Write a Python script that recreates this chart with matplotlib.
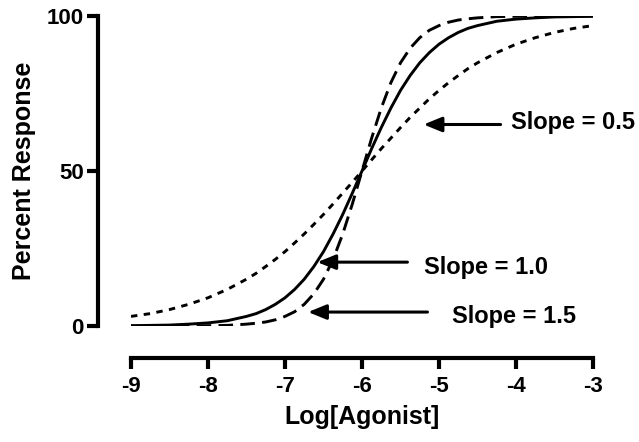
import matplotlib.pyplot as plt

plt.rcParams['font.family'] = ['Liberation Sans', 'DejaVu Sans']
plt.rcParams['font.weight'] = 'bold'
plt.rcParams['axes.unicode_minus'] = False

log_agonist = [-9.0, -8.75, -8.5, -8.25, -8.0, -7.75, -7.5,
               -7.375, -7.25, -7.125, -7.0, -6.875, -6.75, -6.625, -6.5,
               -6.375, -6.25, -6.125, -6.0, -5.875, -5.75, -5.625, -5.5,
               -5.375, -5.25, -5.125, -5.0, -4.875, -4.75, -4.625,
               -4.5, -4.25, -4.0, -3.75, -3.5, -3.25, -3.0]

slope_05 = [3.1, 4.0, 5.3, 7.0, 9.1, 11.8, 15.1,
            17.0, 19.2, 21.5, 24.0, 26.8, 29.7, 32.8, 36.0,
            39.4, 42.9, 46.4, 50.0, 53.6, 57.2, 60.6, 64.0,
            67.3, 70.3, 73.3, 76.0, 78.5, 80.8, 83.0,
            84.9, 88.2, 90.9, 93.0, 94.7, 96.0, 96.9]

slope_10 = [0.1, 0.2, 0.3, 0.6, 1.0, 1.7, 3.1,
            4.0, 5.3, 7.0, 9.1, 11.8, 15.1, 19.2, 24.0,
            29.7, 36.0, 42.9, 50.0, 57.2, 64.0, 70.3, 76.0,
            80.8, 84.9, 88.2, 90.9, 93.0, 94.7, 96.0,
            96.9, 98.3, 99.0, 99.4, 99.7, 99.8, 99.9]

slope_15 = [0.0, 0.0, 0.0, 0.0, 0.1, 0.2, 0.6,
            0.9, 1.3, 2.0, 3.1, 4.6, 7.0, 10.4, 15.1,
            21.5, 29.7, 39.4, 50.0, 60.6, 70.3, 78.5, 84.9,
            89.6, 93.0, 95.4, 96.9, 98.0, 98.7, 99.1,
            99.4, 99.8, 99.9, 100.0, 100.0, 100.0, 100.0]

labels = ['Slope = 0.5', 'Slope = 1.0', 'Slope = 1.5']
arrow_tips = [(-5.20, 65.0), (-6.58, 20.6), (-6.70, 4.5)]
arrow_tails = [(-4.20, 65.0), (-5.41, 20.6), (-5.15, 4.5)]
text_pos = [(-4.07, 65.8), (-5.20, 19.0), (-4.83, 3.2)]

fig = plt.figure(figsize=(6.39, 4.42), dpi=100)
ax = fig.add_axes([131 / 639, 1 - 326 / 442, 462 / 639, 310 / 442])

ax.plot(log_agonist, slope_05, color='black', lw=2.1, dashes=(2.2, 2.2))
ax.plot(log_agonist, slope_10, color='black', lw=2.1)
ax.plot(log_agonist, slope_15, color='black', lw=2.1, dashes=(5, 2.5))

for lab, tip, tail, tp in zip(labels, arrow_tips, arrow_tails, text_pos):
    ax.annotate('', xy=tip, xytext=tail,
                arrowprops=dict(arrowstyle='-|>,head_length=1.1,head_width=0.45',
                                color='black', lw=2.2, shrinkA=0, shrinkB=0))
    ax.text(tp[0], tp[1], lab, fontsize=17, fontweight='bold', va='center', ha='left')

ax.set_xlim(-9, -3)
ax.set_ylim(0, 100)
ax.set_xticks([-9, -8, -7, -6, -5, -4, -3])
ax.set_yticks([0, 50, 100])

ax.spines['top'].set_visible(False)
ax.spines['right'].set_visible(False)
ax.spines['left'].set_position(('outward', 24))
ax.spines['bottom'].set_position(('outward', 23))
for side in ['left', 'bottom']:
    ax.spines[side].set_linewidth(3)
    ax.spines[side].set_capstyle('projecting')
ax.tick_params(axis='both', width=3, length=8, labelsize=16)
ax.tick_params(axis='y', pad=2)
ax.tick_params(axis='x', pad=5)
for t in ax.get_xticklabels() + ax.get_yticklabels():
    t.set_fontweight('bold')

ax.set_xlabel('Log[Agonist]', fontsize=18, fontweight='bold', labelpad=6)
ax.set_ylabel('Percent Response', fontsize=18, fontweight='bold', labelpad=8)

fig.savefig('out.png', dpi=100)
